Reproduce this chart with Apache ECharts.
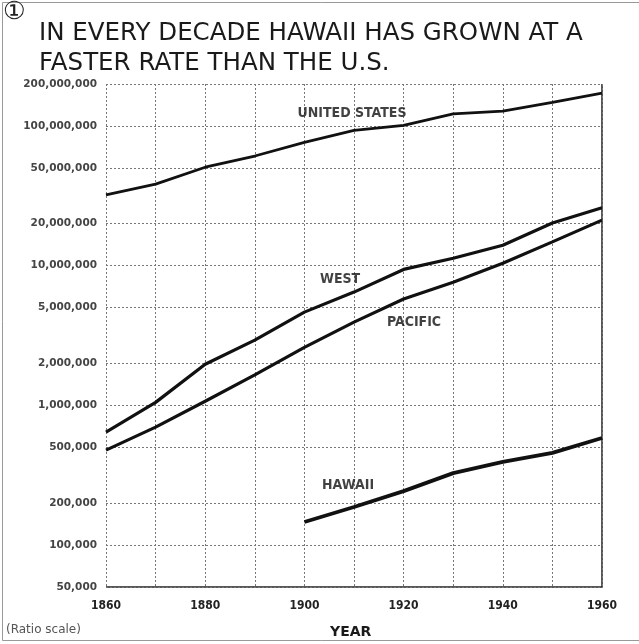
<!DOCTYPE html>
<html>
<head>
<meta charset="utf-8">
<script src="https://cdn.jsdelivr.net/npm/echarts@6/dist/echarts.min.js"></script>
<style>
  html, body { margin: 0; padding: 0; background: #fff; }
  #chart { width: 639px; height: 644px; }
</style>
</head>
<body>
<div id="chart"></div>
<script>
const years = [1860, 1870, 1880, 1890, 1900, 1910, 1920, 1930, 1940, 1950, 1960]
const unitedStates = [32.2e6, 38.4e6, 50.7e6, 61e6, 76.5e6, 93e6, 101e6, 122e6, 128e6, 148e6, 172e6]
const west = [644e3, 1.05e6, 1.97e6, 2.93e6, 4.65e6, 6.47e6, 9.4e6, 11.3e6, 14.0e6, 20.2e6, 26e6]
const pacific = [478e3, 698e3, 1.07e6, 1.65e6, 2.6e6, 3.94e6, 5.77e6, 7.62e6, 10.4e6, 14.8e6, 21.2e6]
const hawaiiYears = [1900, 1910, 1920, 1930, 1940, 1950, 1960]
const hawaii = [146e3, 187e3, 243e3, 327e3, 393e3, 456e3, 583e3]
const yTicks = [5e4, 1e5, 2e5, 5e5, 1e6, 2e6, 5e6, 1e7, 2e7, 5e7, 1e8, 2e8]

// series names placed on the chart: [text, year, value]
const seriesLabels = [
  ['UNITED STATES', 1909.6, 124e6],
  ['WEST', 1907.2, 8.0e6],
  ['PACIFIC', 1922.1, 3.9e6],
  ['HAWAII', 1908.8, 269e3],
]

const zip = (xs, ys) => xs.map((x, i) => [x, ys[i]])

const chart = echarts.init(document.getElementById('chart'))

const lineSeries = (data, width) => ({
  type: 'line',
  data,
  showSymbol: false,
  silent: true,
  lineStyle: { color: '#111', width },
})

chart.setOption({
  backgroundColor: '#fff',
  animation: false,
  title: {
    text: 'IN EVERY DECADE HAWAII HAS GROWN AT A\nFASTER RATE THAN THE U.S.',
    left: 34,
    top: 14,
    textStyle: {
      fontFamily: 'DejaVu Sans',
      fontWeight: 'normal',
      fontSize: 24.5,
      lineHeight: 30,
      color: '#1a1a1a',
    },
  },
  grid: { left: 106, right: 37, top: 84, bottom: 57 },
  xAxis: {
    type: 'value',
    min: 1860,
    max: 1960,
    interval: 10,
    axisLine: { show: false },
    axisTick: { show: false },
    axisLabel: {
      formatter: v => (v % 20 === 0 ? String(v) : ''),
      fontFamily: 'DejaVu Sans Condensed',
      fontWeight: 'bold',
      fontSize: 12,
      color: '#222',
      margin: 13,
    },
    splitLine: { show: true, lineStyle: { color: '#777', type: [2, 2], width: 1 } },
  },
  yAxis: {
    type: 'log',
    logBase: 10,
    min: 5e4,
    max: 2e8,
    axisLine: { show: false },
    axisTick: { show: false, customValues: yTicks },
    axisLabel: {
      customValues: yTicks,
      formatter: v => Math.round(v).toLocaleString('en-US'),
      fontFamily: 'DejaVu Sans',
      fontWeight: 'bold',
      fontSize: 10.5,
      color: '#444',
      margin: 9,
    },
    splitLine: { show: true, lineStyle: { color: '#777', type: [2, 2], width: 1 } },
  },
  series: [
    lineSeries(zip(years, unitedStates), 2.8),
    lineSeries(zip(years, west), 3.2),
    lineSeries(zip(years, pacific), 3.2),
    lineSeries(zip(hawaiiYears, hawaii), 3.8),
    {
      type: 'scatter',
      silent: true,
      symbolSize: 1,
      itemStyle: { color: 'transparent' },
      data: seriesLabels.map(d => ({ value: [d[1], d[2]], name: d[0] })),
      label: {
        show: true,
        position: 'inside',
        formatter: p => p.name,
        fontFamily: 'DejaVu Sans Condensed',
        fontWeight: 'bold',
        fontSize: 14,
        color: '#111',
      },
    },
  ],
  graphic: [
    {
      type: 'rect',
      shape: { x: 2.5, y: 2.5, width: 640, height: 638 },
      style: { fill: 'none', stroke: '#999', lineWidth: 1 },
    },
    {
      type: 'text',
      left: 3,
      top: 0,
      style: { text: '①', font: '25px "DejaVu Sans"', fill: '#222' },
    },
    // right and bottom frame of the plot
    {
      type: 'polyline',
      shape: { points: [[602, 84], [602, 587], [106, 587]] },
      style: { fill: 'none', stroke: '#222', lineWidth: 1.5 },
    },
    {
      type: 'text',
      left: 330,
      top: 625,
      style: { text: 'YEAR', font: 'bold 14px "DejaVu Sans"', fill: '#1a1a1a' },
    },
    {
      type: 'text',
      left: 6,
      top: 624,
      style: { text: '(Ratio scale)', font: '12px "DejaVu Sans"', fill: '#555' },
    },
  ],
})
</script>
</body>
</html>
